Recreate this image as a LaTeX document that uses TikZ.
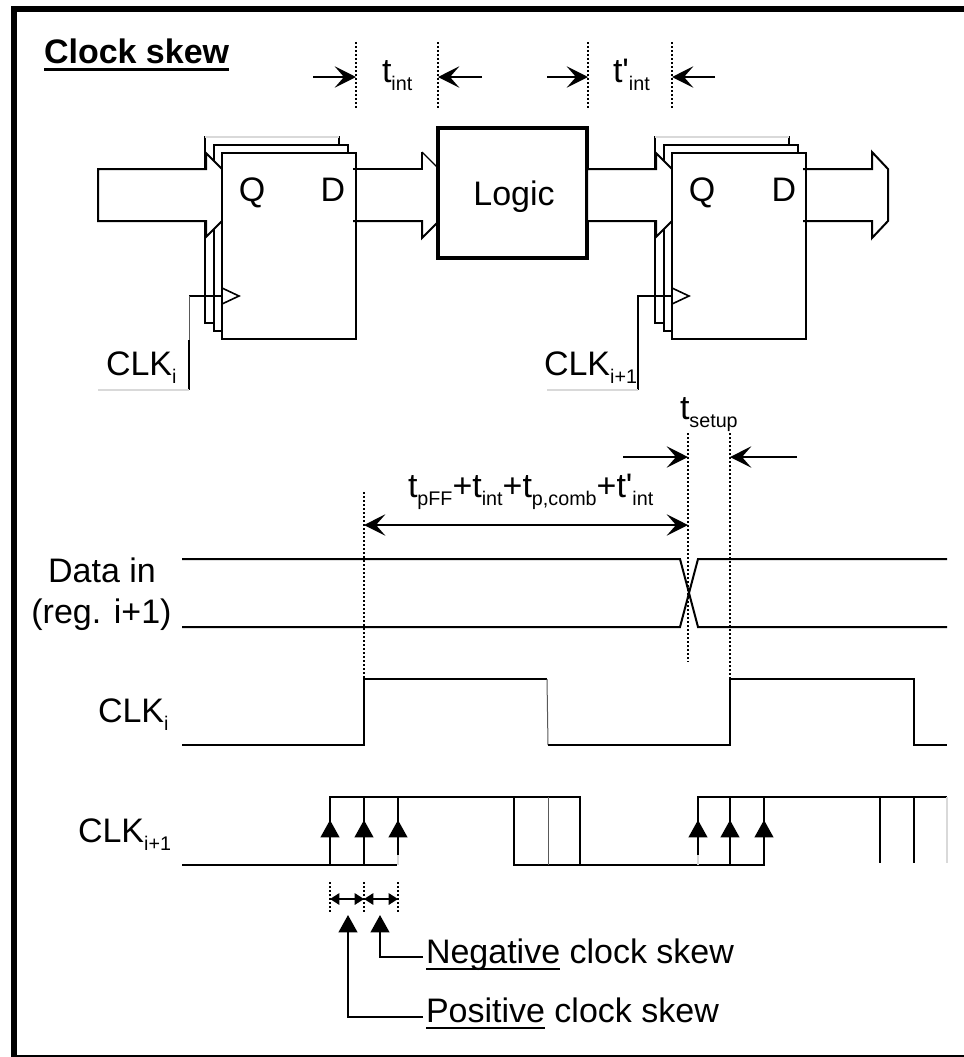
\documentclass[tikz,border=0pt]{standalone}
\usepackage{fontspec}
\setmainfont[Ligatures=TeXOff]{Liberation Sans}
\usetikzlibrary{arrows.meta}
\newlength{\ubarlen}
\newcommand{\ubar}[3]{\settowidth{\ubarlen}{#3}\rlap{\rule[#1]{\ubarlen}{#2}}#3}
\newcommand{\tsub}[1]{\raisebox{-6.5pt}{\fontsize{14.8}{16}\selectfont #1}}
\tikzset{
  dimtip/.tip={Stealth[length=16pt,width=16pt,inset=7pt]},
  uptip/.tip={Triangle[length=13pt,width=14pt]},
  skewtip/.tip={Triangle[length=7pt,width=8.5pt]},
  txt/.style={inner sep=0pt,outer sep=0pt,anchor=base west,font=\fontsize{25.5}{29}\selectfont},
  ffbox/.style={rectangle,draw=black,fill=white,line width=1.5pt,inner sep=0pt,outer sep=0pt,minimum width=100.5pt,minimum height=139.5pt},
  wire/.style={line width=1.5pt,line join=miter},
  faint/.style={line width=1.5pt,gray!30},
  thinwire/.style={line width=0.75pt,black!65},
  dotline/.style={line width=1.5pt,dash pattern=on 1.5pt off 1.5pt},
  dimarrow/.style={line width=1.5pt,-{dimtip}},
  upline/.style={line width=1.5pt,-{uptip}}
}
\begin{document}
\begin{tikzpicture}[x=0.75pt,y=-0.75pt]
\useasboundingbox (0,0) rectangle (964,1057);
% frame
\draw[line width=4.5pt] (11,9) -- (964,9);
\draw[line width=4.5pt] (14,6) -- (14,1057);
\draw[line width=1.2pt] (17,1056) -- (964,1056);
\node[txt,font=\fontsize{25.5}{29}\selectfont\bfseries] (title) at (44,63) {\ubar{-6.2pt}{2.6pt}{Clock skew}};

% first register
\node[ffbox] (ffac) at (272,230) {};
\draw[faint] (ffac.north west) -- (ffac.north east);
\node[ffbox] (ffab) at (280.5,238) {};
\draw[wire,fill=white] (98,169) -- (206,169) -- (206,153) -- (222,169) -- (222,221) -- (206,237) -- (206,221) -- (98,221) -- cycle;
\node[ffbox] (ffa) at (289,246) {};
\node[txt,anchor=base] (qa) at (252,201) {Q};
\node[txt,anchor=base] (da) at (333,201) {D};
\draw[line width=1.2pt] (222,288) -- (239,296) -- (222,304);
\coordinate (clka) at (222,296);
\coordinate (clkacorner) at (189,296);
\coordinate (clkamid) at (189,340);
\coordinate (clkafoot) at (189,390);
\coordinate (clkaend) at (98,390);
\draw[wire] (clkacorner) -- (clka);
\draw[thinwire] (clkacorner) -- (clkamid);
\draw[wire] (clkamid) -- (clkafoot);
\draw[faint] (clkafoot) -- (clkaend);
\node[txt] (clkalabel) at (106,375) {CLK\tsub{i}};

% logic and the buses round it
\node[rectangle,draw=black,line width=3pt,inner sep=0pt,outer sep=0pt,minimum width=111.75pt,minimum height=97.5pt] (logic) at (512.5,193) {};
\node[txt,anchor=base] (logiclabel) at (514,205) {Logic};
\draw[wire] (353,169) -- (422,169) -- (422,152);
\draw[line width=0.9pt] (422,152) -- (438,168);
\draw[wire] (353,221) -- (422,221) -- (422,238) -- (438,222);

% second register
\node[ffbox] (ffbc) at (722,230) {};
\draw[faint] (ffbc.north west) -- (ffbc.north east);
\node[ffbox] (ffbb) at (730.5,238) {};
\draw[wire,fill=white] (587,169) -- (656,169) -- (656,153) -- (672,169) -- (672,221) -- (656,237) -- (656,221) -- (587,221) -- cycle;
\node[ffbox] (ffb) at (739,246) {};
\node[txt,anchor=base] (qb) at (702,201) {Q};
\node[txt,anchor=base] (db) at (784,201) {D};
\draw[line width=1.2pt] (672,288) -- (689,296) -- (672,304);
\coordinate (clkb) at (672,296);
\coordinate (clkbcorner) at (638,296);
\coordinate (clkbfoot) at (638,390);
\coordinate (clkbend) at (547,390);
\draw[wire] (clkb) -- (clkbcorner) -- (clkbfoot);
\draw[faint] (clkbfoot) -- (clkbend);
\node[txt] (clkblabel) at (544,375) {CLK\tsub{i+1}};
\draw[wire] (803,169) -- (872,169) -- (872,152) -- (888,169) -- (888,221) -- (872,238) -- (872,221) -- (803,221);

% interconnect delays
\coordinate (ia) at (356,42);
\coordinate (ib) at (356,110);
\coordinate (ic) at (438,42);
\coordinate (id) at (438,110);
\coordinate (ie) at (588,42);
\coordinate (if) at (588,110);
\coordinate (ig) at (672,42);
\coordinate (ih) at (672,110);
\draw[dotline] (ia) -- (ib);
\draw[dotline] (ic) -- (id);
\draw[dotline] (ie) -- (if);
\draw[dotline] (ig) -- (ih);
\coordinate (aa) at (313,77);
\coordinate (ab) at (356,77);
\coordinate (ac) at (482,77);
\coordinate (ad) at (438,77);
\coordinate (ae) at (547,77);
\coordinate (af) at (588,77);
\coordinate (ag) at (715,77);
\coordinate (ah) at (672,77);
\path[dimarrow] (aa) edge (ab);
\path[dimarrow] (ac) edge (ad);
\path[dimarrow] (ae) edge (af);
\path[dimarrow] (ag) edge (ah);
\node[txt] (tint) at (382,82) {t\tsub{int}};
\node[txt] (tintb) at (613,82) {t'\tsub{int}};

% setup and delay
\coordinate (sa) at (688,433);
\coordinate (sb) at (688,662);
\coordinate (sc) at (730,433);
\coordinate (sd) at (730,679);
\coordinate (se) at (364,492);
\coordinate (sf) at (364,679);
\draw[dotline] (sa) -- (sb);
\draw[dotline] (sc) -- (sd);
\draw[dotline] (se) -- (sf);
\coordinate (ba) at (623,457);
\coordinate (bb) at (688,457);
\coordinate (bc) at (797,457);
\coordinate (bd) at (730,457);
\coordinate (be) at (364,525);
\coordinate (bf) at (688,525);
\path[dimarrow] (ba) edge (bb);
\path[dimarrow] (bc) edge (bd);
\path[dimarrow,{dimtip}-{dimtip}] (be) edge (bf);
\node[txt] (tsetup) at (680,419) {t\tsub{setup}};
\node[txt] (tsum) at (408,497) {t\tsub{pFF}+t\tsub{int}+t\tsub{p,comb}+t'\tsub{int}};

% data in
\draw[wire] (182,559) -- (680,559) -- (698,627) -- (947,627);
\draw[wire] (182,627) -- (680,627) -- (698,559) -- (947,559);
\node[txt,anchor=base] (datain) at (102,582) {Data in};
\node[txt,anchor=base] (datareg) at (101.5,623) {(reg. i+1)};

% clk i
\draw[wire] (182,745) -- (364,745) -- (364,679) -- (547,679);
\draw[thinwire] (547,679) -- (548,745);
\draw[wire] (548,745) -- (730,745) -- (730,679) -- (914,679) -- (914,745) -- (947,745);
\node[txt] (clki) at (98,722) {CLK\tsub{i}};

% clk i+1
\draw[wire] (182,865) -- (397,865);
\draw[wire] (330,865) -- (330,797) -- (580,797) -- (580,865);
\draw[wire] (364,865) -- (364,797);
\draw[wire] (398,797) -- (398,855);
\draw[wire] (514,797) -- (514,865) -- (764,865) -- (764,797);
\draw[thinwire] (548,797) -- (548,865);
\draw[wire] (730,865) -- (730,797);
\draw[wire] (698,855) -- (698,797) -- (947,797);
\draw[wire] (880,797) -- (880,863);
\draw[wire] (914,797) -- (914,863);
\draw[faint] (947,797) -- (947,863);
\draw[faint] (398,855) -- (398,865);
\draw[faint] (698,855) -- (698,865);
\coordinate (ua) at (330,865);
\coordinate (ub) at (330,820);
\coordinate (uc) at (364,865);
\coordinate (ud) at (364,820);
\coordinate (ue) at (398,855);
\coordinate (uf) at (398,820);
\coordinate (ug) at (698,855);
\coordinate (uh) at (698,820);
\coordinate (ui) at (730,865);
\coordinate (uj) at (730,820);
\coordinate (uk) at (764,865);
\coordinate (ul) at (764,820);
\path[upline] (ua) edge (ub);
\path[upline] (uc) edge (ud);
\path[upline] (ue) edge (uf);
\path[upline] (ug) edge (uh);
\path[upline] (ui) edge (uj);
\path[upline] (uk) edge (ul);
\node[txt] (clkj) at (78,842) {CLK\tsub{i+1}};

% skew
\coordinate (ka) at (330,882);
\coordinate (kb) at (330,913);
\coordinate (kc) at (364,882);
\coordinate (kd) at (364,913);
\coordinate (ke) at (398,882);
\coordinate (kf) at (398,913);
\draw[dotline] (ka) -- (kb);
\draw[dotline] (kc) -- (kd);
\draw[dotline] (ke) -- (kf);
\coordinate (la) at (330,899);
\coordinate (lb) at (364,899);
\coordinate (lc) at (398,899);
\path[line width=1.5pt,{skewtip}-{skewtip}] (la) edge (lb);
\path[line width=1.5pt,{skewtip}-{skewtip}] (lb) edge (lc);

\node[txt] (negative) at (426,963) {\ubar{-5.25pt}{1.5pt}{Negative} clock skew};
\node[txt] (positive) at (426,1022) {\ubar{-5.25pt}{1.5pt}{Positive} clock skew};
\coordinate (ma) at (380,957);
\coordinate (mb) at (348,1017);
\coordinate (mc) at (380,915);
\coordinate (md) at (348,915);
\coordinate (me) at (423,957);
\coordinate (mf) at (423,1017);
\draw[line width=1.5pt,-{uptip}] (me) -- (ma) -- (mc);
\draw[line width=1.5pt,-{uptip}] (mf) -- (mb) -- (md);
\end{tikzpicture}
\end{document}
